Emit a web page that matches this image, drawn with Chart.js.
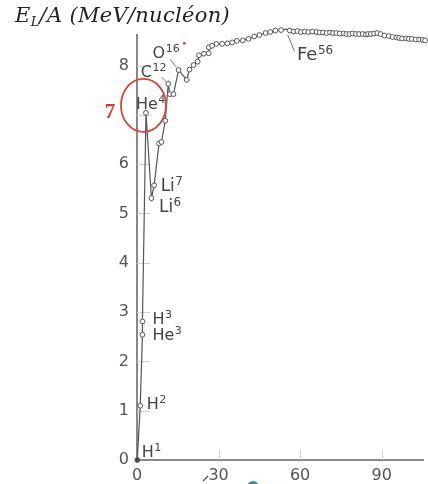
<!DOCTYPE html>
<html lang="fr">
<head>
<meta charset="utf-8">
<script src="https://cdn.jsdelivr.net/npm/chart.js@4.4.1/dist/chart.umd.min.js"></script>
<style>
  html, body { margin: 0; padding: 0; background: #fff; }
  #cadre { position: relative; width: 428px; height: 484px; overflow: hidden; }
  #titre { position: absolute; left: 15px; top: 5px; font: italic 21px 'DejaVu Serif', serif; letter-spacing: 0.3px; color: #222; white-space: nowrap; line-height: 20px; }
  #titre sub { font-size: 13px; vertical-align: -4px; line-height: 0; }
  canvas { position: absolute; left: 0; top: 0; }
</style>
</head>
<body>
<div id="cadre">
  <canvas id="graficoLiaison" width="428" height="484"></canvas>
  <div id="titre">E<sub>L</sub>/A (MeV/nucléon)</div>
</div>
<script>

// nombre de masse A
const nombreMasse = [
    0.1, 1.2, 2.0, 2.0, 3.3, 5.3, 6.3, 8.1, 9.0, 10.4,
    11.5, 12.1, 13.4, 15.3, 18.3, 19.3, 20.8, 22.3, 22.8, 24.6,
    26.4, 26.4, 27.6, 29.2, 31.3, 33.2, 35.0, 36.7, 38.9, 41.0,
    43.1, 45.0, 47.3, 49.0, 50.9, 53.0, 54.9, 56.2, 57.6, 59.0,
    60.3, 61.7, 63.0, 64.5, 66.0, 67.2, 68.4, 69.7, 71.0, 72.1,
    73.3, 74.6, 76.0, 77.0, 78.1, 79.3, 80.5, 81.7, 83.0, 84.2,
    85.0, 86.0, 87.2, 88.4, 89.6, 91.0, 92.6, 94.0, 95.4, 96.4,
    97.5, 99.0, 100.0, 101.1, 102.5, 103.8, 105.1, 106.0
];

// energie de liaison par nucleon (MeV)
const energieParNucleon = [
    0.00, 1.10, 2.54, 2.81, 7.04, 5.31, 5.57, 6.42, 6.45, 6.88,
    7.63, 7.42, 7.42, 7.91, 7.71, 7.92, 8.01, 8.08, 8.21, 8.24,
    8.25, 8.37, 8.40, 8.44, 8.44, 8.45, 8.47, 8.50, 8.51, 8.54,
    8.59, 8.62, 8.66, 8.68, 8.71, 8.72, 8.74, 8.71, 8.69, 8.70,
    8.68, 8.69, 8.68, 8.69, 8.68, 8.67, 8.67, 8.66, 8.67, 8.66,
    8.66, 8.65, 8.65, 8.64, 8.64, 8.65, 8.64, 8.64, 8.64, 8.63,
    8.64, 8.64, 8.65, 8.66, 8.64, 8.61, 8.60, 8.58, 8.57, 8.56,
    8.55, 8.55, 8.54, 8.54, 8.53, 8.53, 8.52, 8.51
];

const graduationsX = [0, 30, 60, 90];
const graduationsY = [0, 1, 2, 3, 4, 5, 6, 7, 8];

const nucleides = ['H1', 'H2', 'He3', 'H3', 'He4', 'Li6', 'Li7', 'C12', 'O16', 'Fe56'];
const indicesNucleides = [0, 1, 2, 3, 4, 5, 6, 10, 13, 36];

let graficoLiaison;

document.addEventListener('DOMContentLoaded', function() {
    carregarGrafico();
});


const placementEtiquettes = {
    H1:   { dx: 4.5,  dy: -3,    taille: 16 },
    H2:   { dx: 6.5,  dy: 3.5,   taille: 16 },
    He3:  { dx: 10,   dy: 5,     taille: 16 },
    H3:   { dx: 10,   dy: 2.5,   taille: 16 },
    He4:  { dx: -10,  dy: -4,    taille: 16 },
    Li6:  { dx: 7.5,  dy: 13.5,  taille: 17 },
    Li7:  { dx: 6.5,  dy: 5.5,   taille: 17 },
    C12:  { dx: -27.5, dy: -7.3, taille: 16, trait: [-6.6, -6.7, -2, -2] },
    O16:  { dx: -26,  dy: -11.7, taille: 16, trait: [-8.3, -10.7, -2, -2.5] },
    Fe56: { dx: 10.7, dy: 30.7,  taille: 18, trait: [1.4, 5.7, 8.4, 22.4] }
};


const pluginDecor = {
    id: 'decor',
    beforeDatasetsDraw(chart) {
        const ctx = chart.ctx;
        const area = chart.chartArea;
        const sx = chart.scales.x;
        const sy = chart.scales.y;
        ctx.save();
        ctx.strokeStyle = '#cfcfcf';
        ctx.lineWidth = 1;
        graduationsY.forEach(function(v) {
            if (v === 0) return;
            const y = Math.round(sy.getPixelForValue(v)) + 0.5;
            ctx.beginPath();
            ctx.moveTo(area.left, y);
            ctx.lineTo(area.left + 13, y);
            ctx.stroke();
        });
        graduationsX.forEach(function(v) {
            if (v === 0) return;
            const x = Math.round(sx.getPixelForValue(v)) + 0.5;
            ctx.beginPath();
            ctx.moveTo(x, area.bottom);
            ctx.lineTo(x, area.bottom - 10);
            ctx.stroke();
        });
        ctx.restore();
    },
    afterDatasetsDraw(chart) {
        const ctx = chart.ctx;
        const sx = chart.scales.x;
        const sy = chart.scales.y;
        ctx.save();

        nucleides.forEach(function(nom, i) {
            const k = indicesNucleides[i];
            const px = sx.getPixelForValue(nombreMasse[k]);
            const py = sy.getPixelForValue(energieParNucleon[k]);
            const p = placementEtiquettes[nom];
            const m = nom.match(/^([A-Za-z]+)(\d+)$/);

            if (p.trait) {
                ctx.strokeStyle = '#777';
                ctx.lineWidth = 1;
                ctx.beginPath();
                ctx.moveTo(px + p.trait[0], py + p.trait[1]);
                ctx.lineTo(px + p.trait[2], py + p.trait[3]);
                ctx.stroke();
            }

            ctx.fillStyle = '#444';
            ctx.textAlign = 'left';
            ctx.textBaseline = 'alphabetic';
            ctx.font = p.taille + 'px "DejaVu Sans"';
            const x = px + p.dx;
            const y = py + p.dy;
            ctx.fillText(m[1], x, y);
            const w = ctx.measureText(m[1]).width;
            ctx.font = Math.round(p.taille * 0.68) + 'px "DejaVu Sans"';
            ctx.fillText(m[2], x + w + 0.5, y - 6);
        });

        // cercle rouge autour de He4
        const hx = sx.getPixelForValue(nombreMasse[4]);
        const hy = sy.getPixelForValue(energieParNucleon[4]);
        ctx.strokeStyle = '#d2483a';
        ctx.lineWidth = 1.8;
        ctx.beginPath();
        ctx.ellipse(hx - 2.5, hy - 7.5, 22.5, 26.5, 0, 0, Math.PI * 2);
        ctx.stroke();

        // le 7 en rouge
        ctx.fillStyle = '#d2402e';
        ctx.font = 'bold 21px "Liberation Serif"';
        ctx.textAlign = 'center';
        ctx.textBaseline = 'middle';
        ctx.fillText('7', 110, sy.getPixelForValue(7) - 2);

        // petites traces du document
        ctx.beginPath();
        ctx.arc(184.3, 43.3, 1.4, 0, Math.PI * 2);
        ctx.fill();
        ctx.strokeStyle = '#555';
        ctx.lineWidth = 1.2;
        ctx.beginPath();
        ctx.moveTo(203, 481);
        ctx.lineTo(208, 476);
        ctx.stroke();
        ctx.fillStyle = '#3b8ea0';
        ctx.beginPath();
        ctx.arc(253, 487, 6, 0, Math.PI * 2);
        ctx.fill();

        ctx.restore();
    }
};


function carregarGrafico() {
    const pontos = nombreMasse.map(function(a, i) {
        return { x: a, y: energieParNucleon[i] };
    });

    const ctx = document.getElementById('graficoLiaison').getContext('2d');

    if (graficoLiaison) {
        graficoLiaison.destroy();
    }

    graficoLiaison = new Chart(ctx, {
        type: 'scatter',
        data: {
            datasets: [{
                data: pontos,
                showLine: true,
                clip: false,
                borderColor: '#555',
                borderWidth: 1.2,
                pointRadius: 2.4,
                pointBorderWidth: 1,
                pointBorderColor: '#555',
                pointBackgroundColor: function(c) {
                    return c.dataIndex === 0 ? '#444' : '#fff';
                }
            }]
        },
        options: {
            responsive: false,
            animation: false,
            layout: {
                padding: { left: 0, top: 35, right: 0, bottom: 0 }
            },
            plugins: {
                legend: { display: false },
                tooltip: { enabled: false }
            },
            scales: {
                x: {
                    type: 'linear',
                    min: 0,
                    max: 105.2,
                    afterBuildTicks: function(scale) {
                        scale.ticks = graduationsX.map(function(v) { return { value: v }; });
                    },
                    afterFit: function(scale) {
                        scale.height = 24;
                    },
                    border: { color: '#888', width: 2 },
                    grid: { display: false, drawTicks: false },
                    ticks: {
                        padding: 6,
                        color: '#555',
                        maxRotation: 0,
                        font: { family: 'DejaVu Sans', size: 16 }
                    }
                },
                y: {
                    min: 0,
                    max: 8.62,
                    afterBuildTicks: function(scale) {
                        scale.ticks = graduationsY.map(function(v) { return { value: v }; });
                    },
                    afterFit: function(scale) {
                        scale.width = 137;
                    },
                    border: { color: '#888', width: 2 },
                    grid: { display: false, drawTicks: false },
                    ticks: {
                        padding: 8,
                        color: '#555',
                        font: { family: 'DejaVu Sans', size: 16 },
                        callback: function(v) {
                            return v === 7 ? '' : String(v);
                        }
                    }
                }
            }
        },
        plugins: [pluginDecor]
    });
}
</script>
</body>
</html>
